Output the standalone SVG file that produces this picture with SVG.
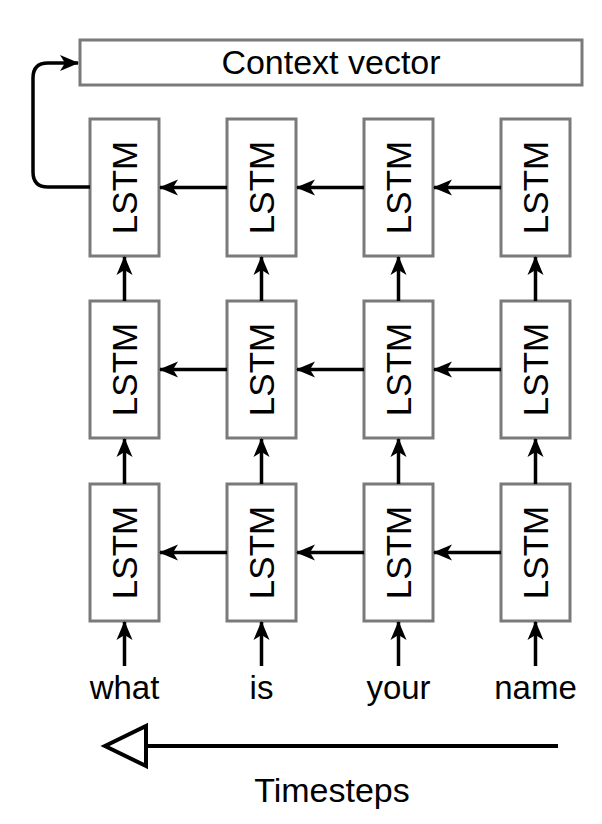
<svg xmlns="http://www.w3.org/2000/svg" width="602" height="824" viewBox="0 0 602 824">
<defs>
<marker id="ah" markerWidth="20" markerHeight="20" viewBox="0 0 20 20" refX="18" refY="10" orient="auto" markerUnits="userSpaceOnUse">
<path d="M0,2 L19,10 L0,18 L5,10 Z" fill="#000"/>
</marker>
<marker id="open" markerWidth="50" markerHeight="50" viewBox="0 0 50 50" refX="44" refY="25" orient="auto" markerUnits="userSpaceOnUse">
<path d="M3,5 L44,25 L3,45 Z" fill="#fff" stroke="#000" stroke-width="4"/>
</marker>
<style>
.box{fill:#fff;stroke:#7a7a7a;stroke-width:3}
.lbl{font-family:"Liberation Sans",Arial,sans-serif;fill:#000}
.lstm{font-size:35px}
.w{font-size:33px}
.c{stroke:#000;stroke-width:3.5;fill:none}
</style>
</defs>
<g id="context">
<rect class="box" x="80" y="40" width="502" height="45"/>
<text class="lbl w" x="331" y="74" text-anchor="middle" style="font-size:34px">Context vector</text>
</g>
<g id="lstm-r0c0"><rect class="box" x="90" y="119" width="69" height="137"/><text class="lbl lstm" transform="translate(137,187.5) rotate(-90)" text-anchor="middle">LSTM</text></g>
<g id="lstm-r0c1"><rect class="box" x="227" y="119" width="69" height="137"/><text class="lbl lstm" transform="translate(274,187.5) rotate(-90)" text-anchor="middle">LSTM</text></g>
<g id="lstm-r0c2"><rect class="box" x="364" y="119" width="69" height="137"/><text class="lbl lstm" transform="translate(411,187.5) rotate(-90)" text-anchor="middle">LSTM</text></g>
<g id="lstm-r0c3"><rect class="box" x="501" y="119" width="69" height="137"/><text class="lbl lstm" transform="translate(548,187.5) rotate(-90)" text-anchor="middle">LSTM</text></g>
<g id="lstm-r1c0"><rect class="box" x="90" y="301" width="69" height="137"/><text class="lbl lstm" transform="translate(137,369.5) rotate(-90)" text-anchor="middle">LSTM</text></g>
<g id="lstm-r1c1"><rect class="box" x="227" y="301" width="69" height="137"/><text class="lbl lstm" transform="translate(274,369.5) rotate(-90)" text-anchor="middle">LSTM</text></g>
<g id="lstm-r1c2"><rect class="box" x="364" y="301" width="69" height="137"/><text class="lbl lstm" transform="translate(411,369.5) rotate(-90)" text-anchor="middle">LSTM</text></g>
<g id="lstm-r1c3"><rect class="box" x="501" y="301" width="69" height="137"/><text class="lbl lstm" transform="translate(548,369.5) rotate(-90)" text-anchor="middle">LSTM</text></g>
<g id="lstm-r2c0"><rect class="box" x="90" y="484" width="69" height="137"/><text class="lbl lstm" transform="translate(137,552.5) rotate(-90)" text-anchor="middle">LSTM</text></g>
<g id="lstm-r2c1"><rect class="box" x="227" y="484" width="69" height="137"/><text class="lbl lstm" transform="translate(274,552.5) rotate(-90)" text-anchor="middle">LSTM</text></g>
<g id="lstm-r2c2"><rect class="box" x="364" y="484" width="69" height="137"/><text class="lbl lstm" transform="translate(411,552.5) rotate(-90)" text-anchor="middle">LSTM</text></g>
<g id="lstm-r2c3"><rect class="box" x="501" y="484" width="69" height="137"/><text class="lbl lstm" transform="translate(548,552.5) rotate(-90)" text-anchor="middle">LSTM</text></g>
<g id="words">
<text class="lbl w" x="124.5" y="699" text-anchor="middle">what</text>
<text class="lbl w" x="261.5" y="699" text-anchor="middle">is</text>
<text class="lbl w" x="398.5" y="699" text-anchor="middle">your</text>
<text class="lbl w" x="535.5" y="699" text-anchor="middle">name</text>
</g>
<g id="timesteps">
<text class="lbl w" x="332" y="802" text-anchor="middle" style="font-size:34px">Timesteps</text>
</g>
<g id="connectors">
<path class="c" d="M90,187 L48,187 Q33,187 33,172 L33,78 Q33,63 48,63 L78,63" marker-end="url(#ah)"/>
<path class="c" d="M227,187.5 L160,187.5" marker-end="url(#ah)"/>
<path class="c" d="M364,187.5 L297,187.5" marker-end="url(#ah)"/>
<path class="c" d="M501,187.5 L434,187.5" marker-end="url(#ah)"/>
<path class="c" d="M227,369.5 L160,369.5" marker-end="url(#ah)"/>
<path class="c" d="M364,369.5 L297,369.5" marker-end="url(#ah)"/>
<path class="c" d="M501,369.5 L434,369.5" marker-end="url(#ah)"/>
<path class="c" d="M227,552.5 L160,552.5" marker-end="url(#ah)"/>
<path class="c" d="M364,552.5 L297,552.5" marker-end="url(#ah)"/>
<path class="c" d="M501,552.5 L434,552.5" marker-end="url(#ah)"/>
<path class="c" d="M124.5,301 L124.5,257" marker-end="url(#ah)"/>
<path class="c" d="M261.5,301 L261.5,257" marker-end="url(#ah)"/>
<path class="c" d="M398.5,301 L398.5,257" marker-end="url(#ah)"/>
<path class="c" d="M535.5,301 L535.5,257" marker-end="url(#ah)"/>
<path class="c" d="M124.5,484 L124.5,439" marker-end="url(#ah)"/>
<path class="c" d="M261.5,484 L261.5,439" marker-end="url(#ah)"/>
<path class="c" d="M398.5,484 L398.5,439" marker-end="url(#ah)"/>
<path class="c" d="M535.5,484 L535.5,439" marker-end="url(#ah)"/>
<path class="c" d="M124.5,666 L124.5,622" marker-end="url(#ah)"/>
<path class="c" d="M261.5,666 L261.5,622" marker-end="url(#ah)"/>
<path class="c" d="M398.5,666 L398.5,622" marker-end="url(#ah)"/>
<path class="c" d="M535.5,666 L535.5,622" marker-end="url(#ah)"/>
<path d="M558,746 L105,746" stroke="#000" stroke-width="4" fill="none" marker-end="url(#open)"/>
</g>
</svg>
